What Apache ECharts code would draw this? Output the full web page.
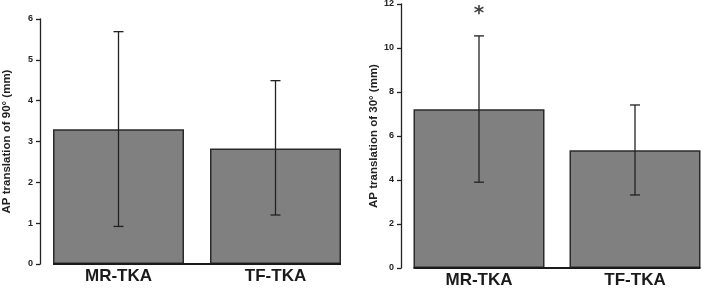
<!DOCTYPE html>
<html>
<head>
<meta charset="utf-8">
<script src="https://cdn.jsdelivr.net/npm/echarts@6/dist/echarts.min.js"></script>
<style>
  html, body { margin: 0; padding: 0; background: #fff; }
  #chart { width: 702px; height: 288px; }
</style>
</head>
<body>
<div id="chart"></div>
<script>
// data
const groups = ['MR-TKA', 'TF-TKA'];

const mean90 = [3.3, 2.83];
const low90 = [0.92, 1.2];
const high90 = [5.69, 4.49];

const mean30 = [7.22, 5.35];
const low30 = [3.9, 3.32];
const high30 = [10.55, 7.41];
const sig30 = ['*', ''];
const sigY30 = [11.55, null];

const ticks90 = { min: 0, max: 6, interval: 1 };
const ticks30 = { min: 0, max: 12, interval: 2 };

const FONT = 'Liberation Sans, Arial, sans-serif';
const BAR_W = 131;

function errRender(params, api) {
    const x = api.value(0);
    const top = api.coord([x, api.value(2)]);
    const bot = api.coord([x, api.value(1)]);
    const cap = 5;
    const st = { stroke: '#222', lineWidth: 1.3 };
    return {
        type: 'group',
        children: [
            { type: 'line', shape: { x1: top[0], y1: top[1], x2: bot[0], y2: bot[1] }, style: st },
            { type: 'line', shape: { x1: top[0] - cap, y1: top[1], x2: top[0] + cap, y2: top[1] }, style: st },
            { type: 'line', shape: { x1: bot[0] - cap, y1: bot[1], x2: bot[0] + cap, y2: bot[1] }, style: st }
        ]
    };
}

// baseline joining the bottoms of the bars (like R barplot)
function baseRender(params, api) {
    const a = api.coord([0, 0]);
    const b = api.coord([groups.length - 1, 0]);
    return {
        type: 'line',
        shape: { x1: a[0] - BAR_W / 2, y1: a[1], x2: b[0] + BAR_W / 2, y2: b[1] },
        style: { stroke: '#1a1a1a', lineWidth: 2 }
    };
}

function yAx(idx, t, name, gap) {
    return {
        type: 'value', gridIndex: idx, min: t.min, max: t.max, interval: t.interval,
        name: name, nameLocation: 'middle', nameGap: gap, nameRotate: 90,
        nameTextStyle: { fontFamily: FONT, fontSize: 11.5, fontWeight: 'bold', color: '#222' },
        axisLine: { show: true, lineStyle: { color: '#222', width: 1.3 } },
        axisTick: { show: true, length: 4, lineStyle: { color: '#222', width: 1.3 } },
        axisLabel: { fontFamily: FONT, fontSize: 9, fontWeight: 'bold', color: '#222', margin: 7 },
        splitLine: { show: false }
    };
}

function xAx(idx) {
    return {
        type: 'category', gridIndex: idx, data: groups,
        axisLine: { show: false }, axisTick: { show: false },
        axisLabel: { fontFamily: FONT, fontSize: 17, fontWeight: 'bold', color: '#1a1a1a', margin: 4 }
    };
}

function barSeries(idx, vals) {
    return {
        type: 'bar', xAxisIndex: idx, yAxisIndex: idx, data: vals, barWidth: BAR_W,
        itemStyle: { color: '#808080', borderColor: '#2a2a2a', borderWidth: 1.5 },
        silent: true
    };
}

const chart = echarts.init(document.getElementById('chart'), null, { renderer: 'canvas' });
chart.setOption({
    animation: false,
    backgroundColor: '#fff',
    grid: [
        { left: 40, top: 19, width: 314, height: 245, outerBoundsMode: 'none', containLabel: false },
        { left: 401, top: 4, width: 312, height: 264, outerBoundsMode: 'none', containLabel: false }
    ],
    xAxis: [xAx(0), xAx(1)],
    yAxis: [
        yAx(0, ticks90, 'AP translation of 90° (mm)', 27),
        yAx(1, ticks30, 'AP translation of 30° (mm)', 20)
    ],
    series: [
        barSeries(0, mean90),
        barSeries(1, mean30),
        {
            type: 'custom', xAxisIndex: 0, yAxisIndex: 0, renderItem: baseRender,
            data: [0], silent: true, z: 3
        },
        {
            type: 'custom', xAxisIndex: 1, yAxisIndex: 1, renderItem: baseRender,
            data: [0], silent: true, z: 3
        },
        {
            type: 'custom', xAxisIndex: 0, yAxisIndex: 0, renderItem: errRender,
            data: groups.map((g, i) => [i, low90[i], high90[i]]), silent: true, z: 4
        },
        {
            type: 'custom', xAxisIndex: 1, yAxisIndex: 1, renderItem: errRender,
            data: groups.map((g, i) => [i, low30[i], high30[i]]), silent: true, z: 4
        },
        {
            type: 'scatter', xAxisIndex: 1, yAxisIndex: 1, symbolSize: 0, silent: true,
            data: groups.map((g, i) => [i, sigY30[i]]),
            label: {
                show: true, position: 'inside',
                formatter: p => sig30[p.dataIndex],
                fontFamily: 'DejaVu Sans, sans-serif', fontSize: 20, fontWeight: 'bold', color: '#111'
            }
        }
    ]
});
</script>
</body>
</html>
